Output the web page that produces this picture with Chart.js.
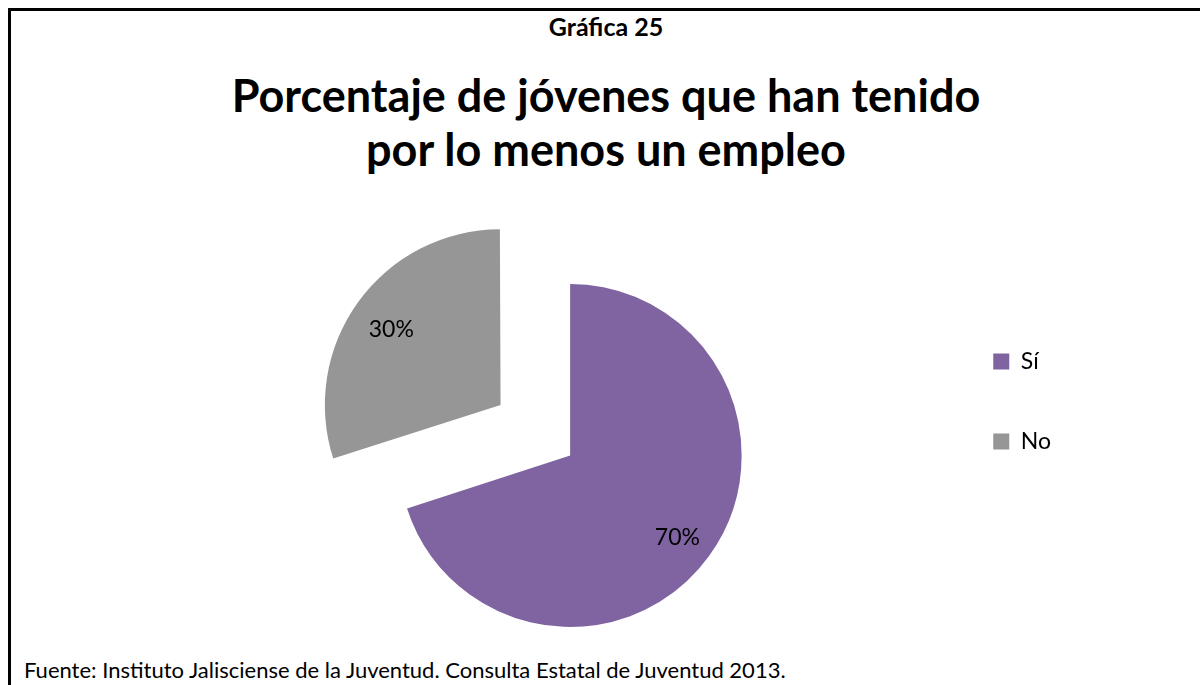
<!DOCTYPE html>
<html>
<head>
<meta charset="utf-8">
<script src="https://cdn.jsdelivr.net/npm/chart.js@4.4.1/dist/chart.umd.min.js"></script>
<style>
  html, body { margin: 0; padding: 0; background: #fff; }
  body { width: 1200px; height: 685px; position: relative; overflow: hidden; font-family: Lato, "Open Sans", sans-serif; color: #000; }
  #frame { position: absolute; left: 8px; top: 8px; width: 1300px; height: 800px; border-left: 3px solid #000; border-top: 3px solid #000; box-sizing: border-box; }
  .t { position: absolute; left: 0; width: 1212px; text-align: center; white-space: nowrap; }
  #kicker { top: 12px; font-size: 25px; line-height: 28px; font-weight: 700; }
  #title { top: 68px; font-size: 45px; line-height: 54px; font-weight: 700; }
  #source { position: absolute; left: 24px; top: 658px; font-size: 22px; line-height: 24px; white-space: nowrap; }
  canvas { position: absolute; left: 0; top: 0; }
</style>
</head>
<body>
<div id="frame"></div>
<div class="t" id="kicker"></div>
<div class="t" id="title"></div>
<div id="source"></div>
<canvas id="c" width="1200" height="685"></canvas>
<script>
const kickerText = "Gráfica 25";
const titleLines = ["Porcentaje de jóvenes que han tenido", "por lo menos un empleo"];
const sourceText = "Fuente: Instituto Jalisciense de la Juventud. Consulta Estatal de Juventud 2013.";
const categories = ["Sí", "No"];
const values = [70, 30];
const valueLabels = ["70%", "30%"];
const colors = ["#8064A2", "#969696"];

document.getElementById('kicker').textContent = kickerText;
document.getElementById('title').innerHTML = titleLines.map(s => s.replace(/&/g,'&amp;').replace(/</g,'&lt;')).join('<br>');
document.getElementById('source').textContent = sourceText;

const labelPlugin = {
  id: 'sliceLabels',
  afterDatasetsDraw(chart) {
    const ctx = chart.ctx;
    const meta = chart.getDatasetMeta(0);
    ctx.save();
    ctx.font = '23px Lato';
    ctx.fillStyle = '#000';
    ctx.textAlign = 'center';
    ctx.textBaseline = 'middle';
    meta.data.forEach((arc, i) => {
      const mid = (arc.startAngle + arc.endAngle) / 2;
      const shift = (arc.options.offset || 0) / 4;
      const d = shift + arc.outerRadius * 0.78;
      ctx.fillText(valueLabels[i], arc.x + Math.cos(mid) * d - 1, arc.y + Math.sin(mid) * d + 3);
    });
    ctx.restore();
  }
};

function build() {
  Chart.defaults.font.family = 'Lato';
  new Chart(document.getElementById('c'), {
    type: 'pie',
    data: {
      labels: categories,
      datasets: [{
        data: values,
        backgroundColor: colors,
        borderWidth: 0,
        offset: [0, 344],
        radius: 171.5,
        cutout: '0%',
        clip: false
      }]
    },
    options: {
      responsive: false,
      devicePixelRatio: 1,
      animation: false,
      layout: { padding: { left: 204, right: 139, top: 293, bottom: 67 } },
      plugins: {
        tooltip: { enabled: false },
        legend: {
          position: 'right',
          align: 'start',
          labels: { boxWidth: 16, boxHeight: 16, padding: 57, color: '#000', font: { family: 'Lato', size: 23 } }
        }
      }
    },
    plugins: [labelPlugin]
  });
}
Promise.all([document.fonts.load('23px Lato'), document.fonts.load('bold 45px Lato')]).then(build, build);
</script>
</body>
</html>
